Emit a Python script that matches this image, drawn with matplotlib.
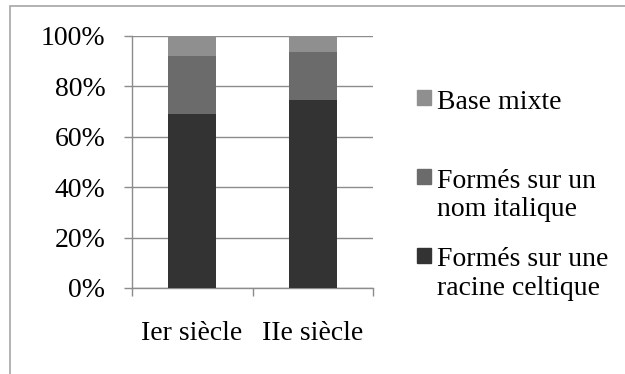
import matplotlib.pyplot as plt
from matplotlib.patches import Rectangle

# data (share of each group, per century)
categories = ['Ier siècle', 'IIe siècle']
celtique = [0.69, 0.747]
italique = [0.231, 0.188]
mixte = [0.079, 0.065]
series_names = ['Formés sur une\nracine celtique', 'Formés sur un\nnom italique', 'Base mixte']
colors = ['#333333', '#6b6b6b', '#8f8f8f']
yticks = [0, 0.2, 0.4, 0.6, 0.8, 1.0]

plt.rcParams['font.family'] = ['Liberation Serif', 'DejaVu Serif']
fs = 20

fig = plt.figure(figsize=(6.25, 3.74), dpi=100)
ax = fig.add_axes([0.2107, 0.2300, 0.3866, 0.6745])

# outer chart frame (runs off the bottom/right edges)
fig.patches.append(Rectangle((10 / 625, -0.1), 1.2, (374 - 6.5) / 374 + 0.1,
                             transform=fig.transFigure, fill=False,
                             edgecolor='#a6a6a6', linewidth=1.2))

x = range(len(categories))
bottom = [0] * len(categories)
for vals, col in zip([celtique, italique, mixte], colors):
    ax.bar(x, vals, width=0.4, bottom=bottom, color=col, zorder=3)
    bottom = [b + v for b, v in zip(bottom, vals)]

ax.set_xlim(-0.5, 1.5)
ax.set_ylim(0, 1)
ax.set_yticks(yticks)
ax.set_yticklabels(['{:.0f}%'.format(v * 100) for v in yticks])
ax.yaxis.grid(True, color='#8c8c8c', linewidth=1.0, zorder=0)

ax.set_xticks([-0.5, 0.5, 1.5])
ax.set_xticklabels([])
ax.set_xticks(list(x), minor=True)
ax.set_xticklabels(categories, minor=True)
ax.tick_params(axis='x', which='major', direction='out', length=6, width=1, color='#8c8c8c')
ax.tick_params(axis='x', which='minor', length=0, pad=24, labelsize=fs)
ax.tick_params(axis='y', direction='out', length=6, width=1, color='#8c8c8c', pad=13, labelsize=fs)

for s in ['top', 'right']:
    ax.spines[s].set_visible(False)
for s in ['left', 'bottom']:
    ax.spines[s].set_color('#8c8c8c')
    ax.spines[s].set_linewidth(1.0)

# legend drawn by hand: square next to first line of each label
leg_base = [266.5, 188, 109]  # baseline of first line, px from top
line_step = 28.5
for name, col, yb in zip(series_names, colors, leg_base):
    fig.patches.append(Rectangle((416.5 / 625, 1 - (yb - 4) / 374), 14.5 / 625, 15 / 374,
                                 transform=fig.transFigure, color=col))
    for i, line in enumerate(name.split('\n')):
        fig.text(437 / 625, 1 - (yb + i * line_step) / 374, line, fontsize=fs,
                 va='baseline', ha='left')

fig.savefig('out.png', dpi=100)
